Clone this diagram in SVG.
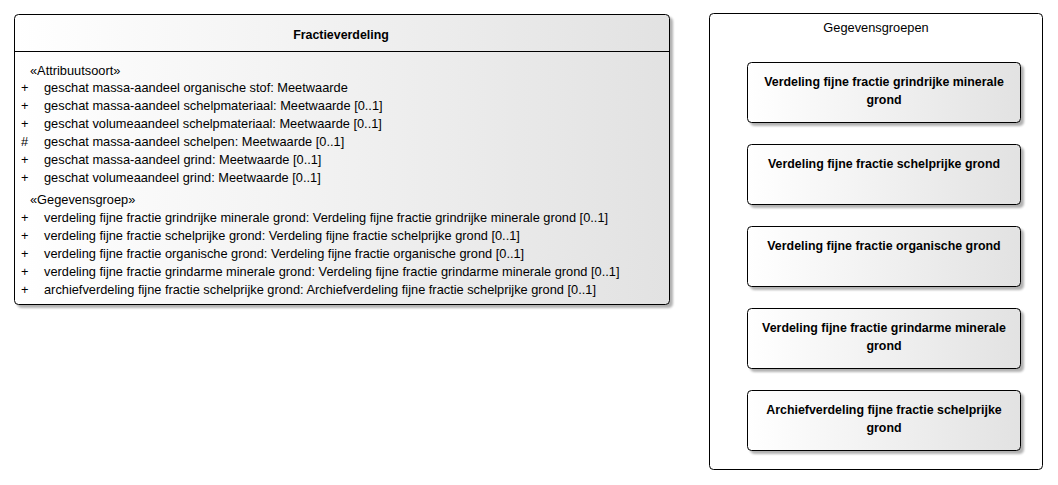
<svg xmlns="http://www.w3.org/2000/svg" width="1058" height="485" viewBox="0 0 1058 485">
<defs>
<linearGradient id="g" x1="0" y1="0" x2="1" y2="0">
<stop offset="0" stop-color="#ffffff"/>
<stop offset="1" stop-color="#e2e2e2"/>
</linearGradient>
<filter id="sh" x="-5%" y="-5%" width="115%" height="115%">
<feDropShadow dx="3" dy="3" stdDeviation="1" flood-color="#000" flood-opacity="0.3"/>
</filter>
</defs>
<style>
text{font-family:"Liberation Sans",Arial,sans-serif;font-size:12.8px;fill:#000}
.b{font-weight:bold;font-size:12.4px}
.box{fill:url(#g);stroke:#000;stroke-width:1}
.c{text-anchor:middle}
</style>
<rect width="1058" height="485" fill="#fff"/>
<g id="Fractieverdeling">
<rect class="box" x="14.5" y="14.5" width="655" height="290" rx="4" filter="url(#sh)"/>
<line x1="14.5" y1="51.5" x2="669.5" y2="51.5" stroke="#000"/>
<text class="b c" x="341" y="39">Fractieverdeling</text>
<text x="30" y="75">«Attribuutsoort»</text>
<g>
<text x="21" y="92">+</text><text x="44" y="92">geschat massa-aandeel organische stof: Meetwaarde</text>
<text x="21" y="110">+</text><text x="44" y="110">geschat massa-aandeel schelpmateriaal: Meetwaarde [0..1]</text>
<text x="21" y="128">+</text><text x="44" y="128">geschat volumeaandeel schelpmateriaal: Meetwaarde [0..1]</text>
<text x="21" y="146">#</text><text x="44" y="146">geschat massa-aandeel schelpen: Meetwaarde [0..1]</text>
<text x="21" y="164">+</text><text x="44" y="164">geschat massa-aandeel grind: Meetwaarde [0..1]</text>
<text x="21" y="182">+</text><text x="44" y="182">geschat volumeaandeel grind: Meetwaarde [0..1]</text>
</g>
<text x="30" y="204">«Gegevensgroep»</text>
<g>
<text x="21" y="222">+</text><text x="44" y="222">verdeling fijne fractie grindrijke minerale grond: Verdeling fijne fractie grindrijke minerale grond [0..1]</text>
<text x="21" y="240">+</text><text x="44" y="240">verdeling fijne fractie schelprijke grond: Verdeling fijne fractie schelprijke grond [0..1]</text>
<text x="21" y="258">+</text><text x="44" y="258">verdeling fijne fractie organische grond: Verdeling fijne fractie organische grond [0..1]</text>
<text x="21" y="276">+</text><text x="44" y="276">verdeling fijne fractie grindarme minerale grond: Verdeling fijne fractie grindarme minerale grond [0..1]</text>
<text x="21" y="294">+</text><text x="44" y="294">archiefverdeling fijne fractie schelprijke grond: Archiefverdeling fijne fractie schelprijke grond [0..1]</text>
</g>
</g>
<g id="Gegevensgroepen">
<rect x="709.5" y="13.5" width="333" height="456" rx="4" fill="#fff" stroke="#000"/>
<text class="c" x="876" y="32">Gegevensgroepen</text>
</g>
<g id="n1">
<rect class="box" x="747.5" y="62.5" width="273" height="60" rx="4" filter="url(#sh)"/>
<text class="b c" x="884" y="86">Verdeling fijne fractie grindrijke minerale</text>
<text class="b c" x="884" y="104">grond</text>
</g>
<g id="n2">
<rect class="box" x="747.5" y="144.5" width="273" height="60" rx="4" filter="url(#sh)"/>
<text class="b c" x="884" y="168">Verdeling fijne fractie schelprijke grond</text>
</g>
<g id="n3">
<rect class="box" x="747.5" y="226.5" width="273" height="60" rx="4" filter="url(#sh)"/>
<text class="b c" x="884" y="250">Verdeling fijne fractie organische grond</text>
</g>
<g id="n4">
<rect class="box" x="747.5" y="308.5" width="273" height="60" rx="4" filter="url(#sh)"/>
<text class="b c" x="884" y="332">Verdeling fijne fractie grindarme minerale</text>
<text class="b c" x="884" y="350">grond</text>
</g>
<g id="n5">
<rect class="box" x="747.5" y="390.5" width="273" height="60" rx="4" filter="url(#sh)"/>
<text class="b c" x="884" y="414">Archiefverdeling fijne fractie schelprijke</text>
<text class="b c" x="884" y="432">grond</text>
</g>
<g id="connectors"></g>
</svg>
